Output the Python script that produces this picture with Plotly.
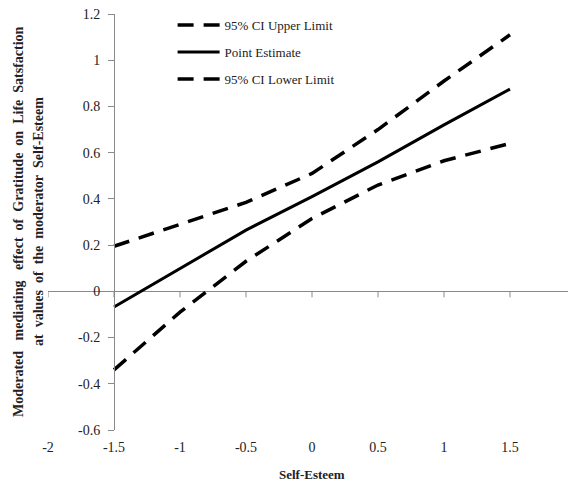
import plotly.graph_objects as go

# ---- data ----
x_vals = [-1.5, -1.0, -0.5, 0.0, 0.5, 1.0, 1.5]
upper = [0.195, 0.29, 0.385, 0.51, 0.70, 0.91, 1.11]
point = [-0.068, 0.10, 0.265, 0.41, 0.56, 0.72, 0.875]
lower = [-0.34, -0.09, 0.13, 0.315, 0.46, 0.565, 0.64]

series_names = ["95% CI Upper Limit", "Point Estimate", "95% CI Lower Limit"]

x_ticks = [-2, -1.5, -1, -0.5, 0, 0.5, 1, 1.5, 2]
x_ticktext = ["-2", "-1.5", "-1", "-0.5", "0", "0.5", "1", "1.5", "2"]
y_ticks = [-0.6, -0.4, -0.2, 0, 0.2, 0.4, 0.6, 0.8, 1.0, 1.2]
y_ticktext = ["-0.6", "-0.4", "-0.2", "0", "0.2", "0.4", "0.6", "0.8", "1", "1.2"]

x_title = "Self-Esteem"
y_title_1 = ("Moderated&nbsp;&nbsp; mediating&nbsp;&nbsp; effect&nbsp; of&nbsp; Gratitude&nbsp; "
             "on&nbsp; Life&nbsp; Satsfaction")
y_title_2 = "at&nbsp; values&nbsp; of&nbsp; the&nbsp; moderator&nbsp; Self-Esteem"

FONT = "Times New Roman, Liberation Serif, serif"
AXIS_COL = "#8a8a8a"
TXT_COL = "#222222"

fig = go.Figure()
fig.add_trace(go.Scatter(x=x_vals, y=upper, mode="lines", name=series_names[0],
                         line=dict(color="black", width=3.5, dash="16px,10px"),
                         legend="legend", showlegend=True))
fig.add_trace(go.Scatter(x=x_vals, y=point, mode="lines", name=series_names[1],
                         line=dict(color="black", width=3),
                         legend="legend2", showlegend=True))
fig.add_trace(go.Scatter(x=x_vals, y=lower, mode="lines", name=series_names[2],
                         line=dict(color="black", width=3.5, dash="16px,10px"),
                         legend="legend3", showlegend=True))

# small tick marks on the horizontal axis line (y = 0)
for xv in x_ticks:
    fig.add_shape(type="line", xref="x", yref="y", x0=xv, x1=xv,
                  ysizemode="pixel", yanchor=0, y0=0, y1=-6,
                  line=dict(color=AXIS_COL, width=1))

leg_common = dict(xanchor="left", yanchor="middle", bgcolor="rgba(0,0,0,0)",
                  font=dict(family=FONT, size=13, color=TXT_COL), itemwidth=42,
                  visible=True)
# the page body keeps an 8px margin, so the figure is sized to the remaining window
fig.update_layout(
    width=568, height=476,
    margin=dict(l=40, r=0, t=6, b=54, autoexpand=False),
    paper_bgcolor="white", plot_bgcolor="white",
    showlegend=True,
    font=dict(family=FONT, size=14, color=TXT_COL),
    legend=dict(x=0.236, y=0.9736, **leg_common),
    legend2=dict(x=0.236, y=0.9087, **leg_common),
    legend3=dict(x=0.236, y=0.8438, **leg_common),
    xaxis=dict(range=[-2, 2], tickvals=x_ticks, ticktext=x_ticktext,
               showline=False, showgrid=False, zeroline=False, ticks="",
               automargin=False, ticklabeloverflow="allow",
               ticklabelstandoff=7, tickfont=dict(family=FONT, size=14, color=TXT_COL)),
    yaxis=dict(range=[-0.6, 1.2], tickvals=y_ticks, ticktext=y_ticktext,
               anchor="free", position=0.125, automargin=False,
               ticklabeloverflow="allow",
               showline=True, linecolor=AXIS_COL, linewidth=1,
               ticks="outside", ticklen=6, tickcolor=AXIS_COL,
               ticklabelstandoff=5,
               showgrid=False, zeroline=True, zerolinecolor=AXIS_COL, zerolinewidth=1,
               tickfont=dict(family=FONT, size=14, color=TXT_COL)),
    annotations=[
        dict(text="<b>" + x_title + "</b>", xref="paper", yref="paper", x=0.5, y=0,
             xanchor="center", yanchor="top", yshift=-35, showarrow=False,
             font=dict(family=FONT, size=13, color=TXT_COL)),
        dict(text="<b>" + y_title_1 + "</b>", xref="paper", yref="paper",
             x=0, y=0.5, xanchor="center", yanchor="middle", xshift=-30,
             textangle=-90, showarrow=False,
             font=dict(family=FONT, size=14, color=TXT_COL)),
        dict(text="<b>" + y_title_2 + "</b>", xref="paper", yref="paper",
             x=0, y=0.5, xanchor="center", yanchor="middle", xshift=-10,
             textangle=-90, showarrow=False,
             font=dict(family=FONT, size=14, color=TXT_COL)),
    ],
)

fig.write_html("out.html")
